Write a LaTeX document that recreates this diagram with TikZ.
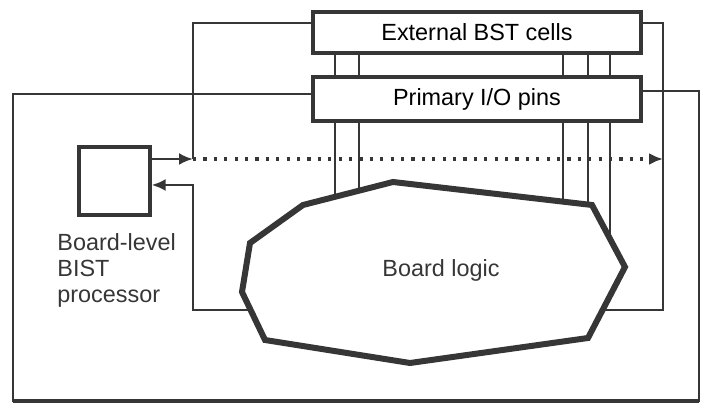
\documentclass[tikz,border=0pt]{standalone}
\usepackage{fontspec}
\setmainfont{Liberation Sans}
\usepackage{tikz}
\usetikzlibrary{arrows.meta,positioning,calc}
\definecolor{ink}{HTML}{363636}

\tikzset{
  cellbox/.style={draw=ink,line width=1.6pt,fill=white,minimum width=164pt,inner sep=0pt,font=\fontsize{11.7}{13}\selectfont},
  wire/.style={draw=ink,line width=1.3pt},
  sig/.style={wire,-{Latex[length=7pt,width=6pt]}},
  lbl/.style={text=ink,inner sep=0pt,font=\fontsize{11.7}{13}\selectfont},
}

\begin{document}
\begin{tikzpicture}[x=0.5pt,y=-0.5pt]
  \useasboundingbox (0,0) rectangle (703,411);
  % boxes
  \node[cellbox,minimum height=20.5pt] (ext) at (477,32.5) {External BST cells};
  \node[cellbox,minimum height=22pt] (pio) at (477,99) {Primary I/O pins};
  \node[draw=ink,line width=1.6pt,minimum width=35.5pt,minimum height=34pt,inner sep=0pt] (bist) at (114.5,181) {};
  \node[lbl,anchor=north west,align=left] (bistlbl) at (57,233) {Board-level\\BIST\\processor};
  % board logic outline
  \coordinate (p1) at (393,182);
  \coordinate (p2) at (592,205);
  \coordinate (p3) at (625,267);
  \coordinate (p4) at (588,338);
  \coordinate (p5) at (410,363);
  \coordinate (p6) at (265,340);
  \coordinate (p7) at (242,292);
  \coordinate (p8) at (250,243);
  \coordinate (p9) at (303,205);
  \node[lbl] (logic) at (441,270) {Board logic};
  % wire corners
  \coordinate (tl) at (193,23);
  \coordinate (dl) at (193,159);
  \coordinate (ml) at (193,185);
  \coordinate (bl) at (193,310);
  \coordinate (lc) at (251,310);
  \coordinate (tr) at (663,23);
  \coordinate (dr) at (663,159);
  \coordinate (br) at (663,310);
  \coordinate (rc) at (603,310);
  % outer board frame
  \draw[wire] (pio.west |- 0,94) -- (13,94) -- (13,401) -- (699,401) -- (699,91) -- (pio.east |- 0,91);
  \draw[ink,line width=2.4pt] (13,401) -- (699,401);
  % scan path
  \draw[wire] (ext.west |- tl) -- (tl) -- (dl);
  \draw[wire] (ext.east |- tr) -- (tr) -- (br) -- (rc);
  \draw[sig] (bist.east |- dl) -- (dl);
  \draw[sig] (lc) -- (bl) -- (ml) -- (bist.east |- ml);
  \draw[wire,line width=1.8pt,dash pattern=on 1.6pt off 3.6pt,-{Latex[length=7pt,width=6pt]}] (dl) -- (dr);
  % links between cells, pins and logic
  \foreach \x in {335,359,563,588,610}
    \draw[wire] (ext.south -| \x,0) -- (pio.north -| \x,0);
  \foreach \x/\y in {335/197,359/191,563/202,588/205,610/239}
    \draw[wire] (pio.south -| \x,0) -- (\x,\y);
  \draw[ink,line width=3pt] (p1) -- (p2) -- (p3) -- (p4) -- (p5) -- (p6) -- (p7) -- (p8) -- (p9) -- cycle;
\end{tikzpicture}
\end{document}
